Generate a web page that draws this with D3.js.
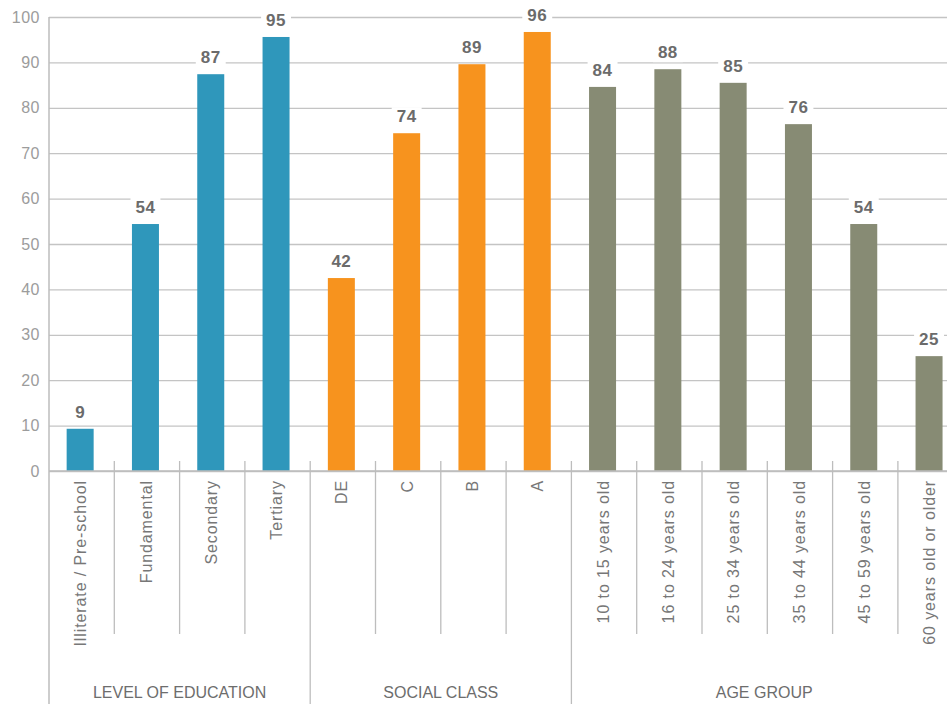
<!DOCTYPE html>
<html>
<head>
<meta charset="utf-8">
<script src="https://cdn.jsdelivr.net/npm/d3@7"></script>
<style>
  body { margin: 0; background: #fff; }
  svg { display: block; font-family: "Liberation Sans", Arial, sans-serif; }
</style>
</head>
<body>
<div id="chart"></div>
<script>
// data
const categories = [
  "Illiterate / Pre-school", "Fundamental", "Secondary", "Tertiary",
  "DE", "C", "B", "A",
  "10 to 15 years old", "16 to 24 years old", "25 to 34 years old",
  "35 to 44 years old", "45 to 59 years old", "60 years old or older"
];
const values = [9.3, 54.4, 87.4, 95.6, 42.5, 74.4, 89.6, 96.7, 84.6, 88.5, 85.5, 76.4, 54.4, 25.3];
const groups = ["LEVEL OF EDUCATION", "SOCIAL CLASS", "AGE GROUP"];
const groupSizes = [4, 4, 6];
const groupColors = ["#2f97bb", "#f7931e", "#878b74"];
const yTicks = [0, 10, 20, 30, 40, 50, 60, 70, 80, 90, 100];

const svgObj = { width: 947, height: 704 };
const plot = { left: 49, top: 17, bottom: 471, band: 65.3 };

const svg = d3.select("#chart").append("svg")
  .attr("width", svgObj.width)
  .attr("height", svgObj.height);

const x = d3.scaleBand()
  .domain(categories)
  .range([plot.left, plot.left + plot.band * categories.length])
  .paddingInner(0).paddingOuter(0);

const y = d3.scaleLinear().domain([0, 100]).range([plot.bottom, plot.top]);

// group index for each bar
const groupOf = [];
groupSizes.forEach((n, g) => { for (let i = 0; i < n; i++) groupOf.push(g); });

// gridlines + y labels
const yAxis = d3.axisLeft(y).tickValues(yTicks).tickSize(-(svgObj.width - plot.left)).tickPadding(9);
const yG = svg.append("g").attr("transform", `translate(${plot.left},0)`).call(yAxis);
yG.select(".domain").remove();
yG.selectAll(".tick line").attr("stroke", "#c4c4c4").attr("stroke-width", 1.3);
yG.selectAll(".tick text")
  .attr("fill", "#9c9c9c")
  .style("font-family", "Liberation Sans, Arial, sans-serif")
  .style("font-size", "16px")
  .style("letter-spacing", "0.5px");

// left axis line, full height
svg.append("line")
  .attr("x1", plot.left).attr("x2", plot.left)
  .attr("y1", plot.top).attr("y2", svgObj.height)
  .attr("stroke", "#bdbdbd").attr("stroke-width", 1.5);

// bars
const barW = 27;
svg.append("g").selectAll("rect")
  .data(values)
  .join("rect")
  .attr("x", (d, i) => x(categories[i]) + x.bandwidth() / 2 - barW / 2 - 1.5)
  .attr("y", d => y(d))
  .attr("width", barW)
  .attr("height", d => y(0) - y(d))
  .attr("fill", (d, i) => groupColors[groupOf[i]]);

// value labels with white knockout
const labelG = svg.append("g");
values.forEach((v, i) => {
  const cx = x(categories[i]) + x.bandwidth() / 2 - 1.5;
  const t = labelG.append("text")
    .attr("x", cx)
    .attr("y", y(v) - 11)
    .attr("text-anchor", "middle")
    .attr("fill", "#6b6b6b")
    .style("font-size", "17px")
    .style("font-weight", "bold")
    .style("letter-spacing", "0.5px")
    .text(Math.trunc(v));
  const bb = t.node().getBBox();
  labelG.insert("rect", () => t.node())
    .attr("x", bb.x - 5).attr("y", bb.y)
    .attr("width", bb.width + 10).attr("height", bb.height)
    .attr("fill", "#fff");
});

// separators between categories
let start = 0;
const sepG = svg.append("g");
groupSizes.forEach((n, g) => {
  for (let k = 1; k <= n; k++) {
    const idx = start + k;
    if (idx >= categories.length) break;
    const sx = x(categories[idx]);
    const isGroupEnd = k === n;
    sepG.append("line")
      .attr("x1", sx).attr("x2", sx)
      .attr("y1", 461)
      .attr("y2", isGroupEnd ? svgObj.height : 634)
      .attr("stroke", "#bdbdbd").attr("stroke-width", 1.3);
  }
  // group label
  const gx0 = x(categories[start]);
  const gx1 = x(categories[start + n - 1]) + x.bandwidth();
  svg.append("text")
    .attr("x", g === 2 ? (gx0 + 947 + 10) / 2 : (gx0 + gx1) / 2)
    .attr("y", 698)
    .attr("text-anchor", "middle")
    .attr("fill", "#6d6d6d")
    .style("font-size", "16px")
    .text(groups[g]);
  start += n;
});

// zero baseline
svg.append("line")
  .attr("x1", plot.left).attr("x2", svgObj.width)
  .attr("y1", y(0)).attr("y2", y(0))
  .attr("stroke", "#bdbdbd").attr("stroke-width", 1.5);

// category labels, rotated
svg.append("g").selectAll("text")
  .data(categories)
  .join("text")
  .attr("transform", d => `translate(${x(d) + x.bandwidth() / 2 - 1},480) rotate(-90)`)
  .attr("text-anchor", "end")
  .attr("dy", "0.35em")
  .attr("fill", "#777")
  .style("font-size", "16px")
  .style("letter-spacing", "0.9px")
  .text(d => d);
</script>
</body>
</html>
